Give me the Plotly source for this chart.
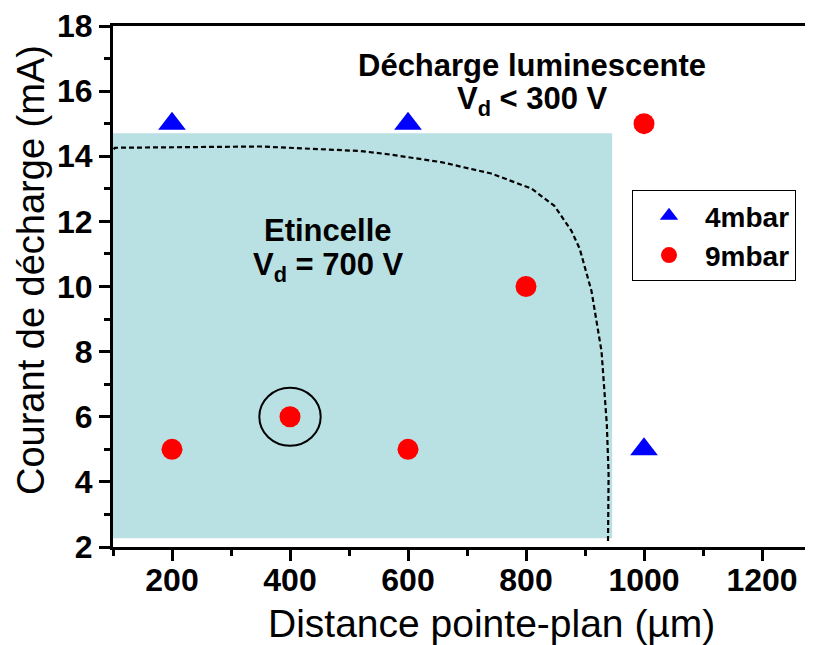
import plotly.graph_objects as go

# Data
dist_4mbar = [200, 600, 1000]
cur_4mbar = [15, 15, 5]
dist_9mbar = [200, 400, 600, 800, 1000]
cur_9mbar = [5, 6, 5, 10, 15]

# dashed boundary between regimes
boundary_x = [97, 97, 103, 200, 350, 520, 571, 656, 741, 809, 848, 877, 891, 911, 928, 937, 940, 939]
boundary_y = [2.2, 14.1, 14.26, 14.28, 14.3, 14.16, 14.05, 13.82, 13.47, 13.01, 12.48, 11.71, 11.16, 9.86, 8.01, 5.76, 4.22, 2.16]

# spark region
spark_x = [100, 946]
spark_y = [2.27, 14.71]

# highlighted point
hl_x = 400
hl_y = 6

x_ticks = [200, 400, 600, 800, 1000, 1200]
y_ticks = [2, 4, 6, 8, 10, 12, 14, 16, 18]

FONT = "Liberation Sans, Arial, sans-serif"

W, H = 805, 645
OFF = 8  # page body margin
ML, MR, MT, MB = 105, 0, 18, 106
PW, PH = W - ML - MR, H - MT - MB
XMAX = 100 + PW / (59.0 / 100)


def px(xp):
    return (xp - OFF - ML) / PW


def py(yp):
    return (H - MB - (yp - OFF)) / PH


fig = go.Figure()

fig.add_shape(type="rect", xref="x", yref="y",
              x0=spark_x[0], x1=spark_x[1], y0=spark_y[0], y1=spark_y[1],
              fillcolor="rgb(185,224,227)", line=dict(width=0), layer="below")

fig.add_trace(go.Scatter(x=boundary_x, y=boundary_y, mode="lines",
                         line=dict(color="black", width=2.2, dash="5px,3px"),
                         showlegend=False, hoverinfo="skip", cliponaxis=False))

fig.add_shape(type="circle", xref="x", yref="y",
              x0=hl_x - 52, x1=hl_x + 52, y0=hl_y - 0.89, y1=hl_y + 0.89,
              line=dict(color="black", width=2))

fig.add_trace(go.Scatter(x=dist_4mbar, y=cur_4mbar, mode="markers", name="4mbar",
                         legendgroup="a", cliponaxis=False,
                         marker=dict(symbol="triangle-up", size=24, color="rgb(0,0,255)")))
fig.add_trace(go.Scatter(x=dist_9mbar, y=cur_9mbar, mode="markers", name="9mbar",
                         legendgroup="b", cliponaxis=False,
                         marker=dict(symbol="circle", size=21, color="rgb(255,0,0)")))

bold = dict(family=FONT, size=31, color="black", weight="bold")


def label(xv, yv, text, font, angle=0):
    fig.add_annotation(x=px(xv), y=py(yv), xref="paper", yref="paper",
                       xanchor="center", yanchor="middle", textangle=angle,
                       text=text, showarrow=False, font=font)


label(532, 65.5, "Décharge luminescente", bold)
label(532, 101, "V<sub>d</sub> < 300 V", bold)
label(328, 230.5, "Etincelle", bold)
label(328, 267, "V<sub>d</sub> = 700 V", bold)

# axis titles
label(491, 624, "Distance pointe-plan (µm)", dict(family=FONT, size=39, color="black"))
label(31, 270, "Courant de décharge (mA)", dict(family=FONT, size=38, color="black"), -90)

fig.update_layout(
    width=W, height=H,
    margin=dict(l=ML, r=MR, t=MT, b=MB),
    plot_bgcolor="white", paper_bgcolor="white",
    font=dict(family=FONT, color="black"),
    legend=dict(x=px(632), y=py(190), xanchor="left", yanchor="top",
                bordercolor="black", borderwidth=1, bgcolor="white",
                font=dict(size=28, weight="bold"), tracegroupgap=0,
                itemwidth=62, traceorder="grouped"),
    xaxis=dict(range=[100, XMAX], tickvals=x_ticks, ticks="outside", ticklen=11,
               tickwidth=3, tickcolor="black", showline=True, linewidth=3,
               linecolor="black", mirror=True, showgrid=False, zeroline=False,
               automargin=False, ticklabelstandoff=-8,
               tickfont=dict(size=32, weight="bold"),
               minor=dict(dtick=200, tick0=100, ticks="outside", ticklen=6,
                          tickwidth=3, tickcolor="black")),
    yaxis=dict(range=[2, 18], tickvals=y_ticks, ticks="outside", ticklen=11,
               tickwidth=3, tickcolor="black", showline=True, linewidth=3,
               linecolor="black", showgrid=False, zeroline=False,
               automargin=False,
               tickfont=dict(size=32, weight="bold"),
               minor=dict(dtick=2, tick0=3, ticks="outside", ticklen=6,
                          tickwidth=3, tickcolor="black")),
)

fig.write_html("out.html")
